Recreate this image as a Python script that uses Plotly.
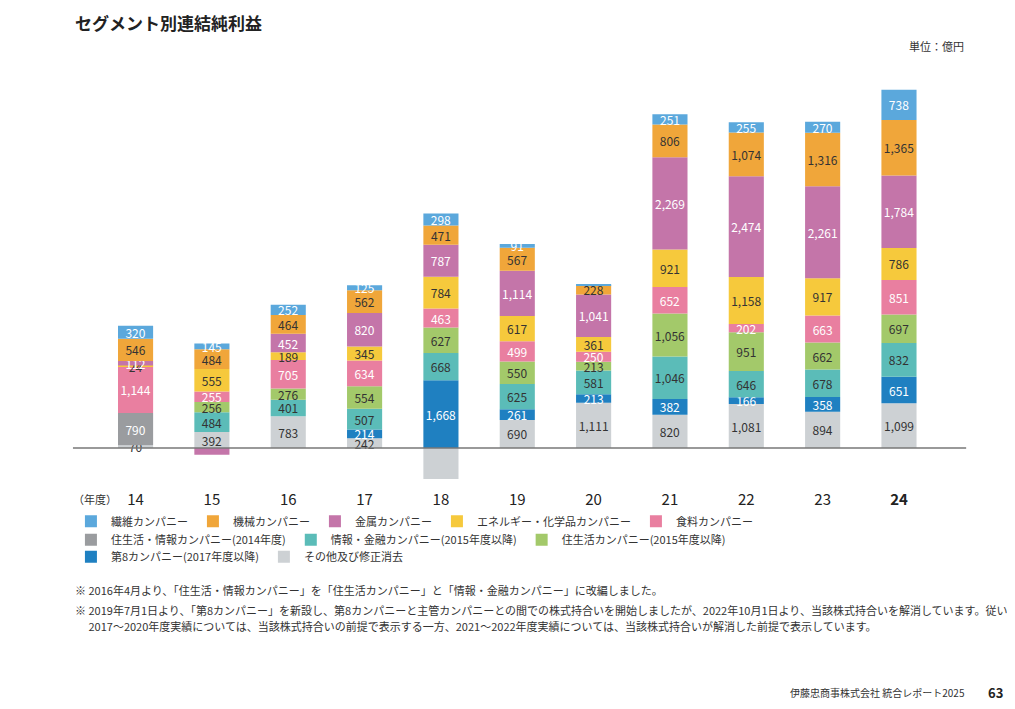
import plotly.graph_objs as go


years = ['14', '15', '16', '17', '18', '19', '20', '21', '22', '23', '24']

# stacking order, bottom first: (name, colour, text colour, legend, values)
segments = [
    ('その他及び修正消去', '#cdd1d4', '#333333', 'legend3',
     [70, 392, 783, 242, -760, 690, 1111, 820, 1081, 894, 1099]),
    ('住生活・情報カンパニー(2014年度)', '#9a9c9f', '#ffffff', 'legend2',
     [790, None, None, None, None, None, None, None, None, None, None]),
    ('第8カンパニー(2017年度以降)', '#1f80c1', '#ffffff', 'legend3',
     [None, None, None, 214, 1668, 261, 213, 382, 166, 358, 651]),
    ('情報・金融カンパニー(2015年度以降)', '#5bbcb8', '#333333', 'legend2',
     [None, 484, 401, 507, 668, 625, 581, 1046, 646, 678, 832]),
    ('住生活カンパニー(2015年度以降)', '#a3c96a', '#333333', 'legend2',
     [None, 256, 276, 554, 627, 550, 213, 1056, 951, 662, 697]),
    ('食料カンパニー', '#e97fa0', '#ffffff', 'legend',
     [1144, 255, 705, 634, 463, 499, 250, 652, 202, 663, 851]),
    ('エネルギー・化学品カンパニー', '#f6c93c', '#333333', 'legend',
     [24, 555, 189, 345, 784, 617, 361, 921, 1158, 917, 786]),
    ('金属カンパニー', '#c475a9', '#ffffff', 'legend',
     [112, -167, 452, 820, 787, 1114, 1041, 2269, 2474, 2261, 1784]),
    ('機械カンパニー', '#f0a63a', '#333333', 'legend',
     [546, 484, 464, 562, 471, 567, 228, 806, 1074, 1316, 1365]),
    ('繊維カンパニー', '#5ba8dc', '#ffffff', 'legend',
     [320, 145, 252, 125, 298, 91, 16, 251, 255, 270, 738]),
]
totals = [3006, 2404, 3522, 4003, 5005, 5013, 4014, 8203, 8005, 8018, 8803]

fig = go.Figure()

for name, color, tcolor, leg, vals in segments:
    labels = []
    for y, v in zip(years, vals):
        if v is None or v < 0 or (name == '繊維カンパニー' and y == '20'):
            labels.append('')
        else:
            labels.append(f'{v:,}')
    fig.add_trace(go.Bar(x=years, y=vals, name=name, marker_color=color, marker_line_width=0,
                         text=labels, textposition='inside', insidetextanchor='middle',
                         textangle=0, constraintext='none',
                         textfont=dict(color=tcolor, size=12), legend=leg,
                         hoverinfo='skip'))

# total labels
for i, (y, t) in enumerate(zip(years, totals)):
    top = sum(vals[i] for *_, vals in segments if vals[i] and vals[i] > 0)
    fig.add_annotation(x=y, y=top, text=f'{t:,}', showarrow=False, yanchor='bottom', yshift=1,
                       font=dict(size=12, color='#333333'))

# negative values
fig.add_annotation(x='15', y=-167, text='▲167', showarrow=False, yanchor='top', yshift=-1,
                   font=dict(size=12, color='#222222'))
fig.add_annotation(x='18', y=-380, text='▲760', showarrow=False,
                   font=dict(size=12, color='#222222'))
fig.add_annotation(x='20', y=4014, text='16', showarrow=False, xshift=26, yshift=-2,
                   font=dict(size=12, color='#333333'))

fig.add_shape(type='line', xref='paper', yref='y', x0=0.064, x1=0.944, y0=0, y1=0,
              line=dict(color='#777777', width=1.5))

ticktext = ['<b>24</b>' if y == '24' else y for y in years]
fig.update_xaxes(domain=[0.064, 0.944], range=[-0.82, 10.88], tickvals=years, ticktext=ticktext,
                 showgrid=False, showline=False, ticks='', tickfont=dict(size=15, color='#222222'),
                 ticklabelstandoff=6)
fig.update_yaxes(domain=[1 - 475 / 709, 1 - 60 / 709], range=[-860, 9340], visible=False)

texts = [
    (0.064, 0.980, 'left', '<b>セグメント別連結純利益</b>', 17, '#222222'),
    (0.944, 0.946, 'right', '単位：億円', 11, '#333333'),
    (0.062, 0.307, 'left', '（年度）', 11, '#333333'),
    (0.064, 0.179, 'left', '※ 2016年4月より、「住生活・情報カンパニー」を「住生活カンパニー」と「情報・金融カンパニー」に改編しました。', 11, '#333333'),
    (0.064, 0.151, 'left', '※ 2019年7月1日より、「第8カンパニー」を新設し、第8カンパニーと主管カンパニーとの間での株式持合いを開始しましたが、2022年10月1日より、当該株式持合いを解消しています。従い、', 11, '#333333'),
    (0.064, 0.128, 'left', '　 2017～2020年度実績については、当該株式持合いの前提で表示する一方、2021～2022年度実績については、当該株式持合いが解消した前提で表示しています。', 11, '#333333'),
    (0.945, 0.035, 'right', '伊藤忠商事株式会社 統合レポート2025', 10, '#333333'),
    (0.982, 0.035, 'right', '<b>63</b>', 13, '#222222'),
]
for x, y, anchor, t, s, c in texts:
    fig.add_annotation(xref='paper', yref='paper', x=x, y=y, text=t, showarrow=False,
                       xanchor=anchor, yanchor='middle', font=dict(size=s, color=c))

legend_style = dict(orientation='h', xanchor='left', yanchor='middle', font=dict(size=11, color='#333333'),
                    bgcolor='rgba(0,0,0,0)', itemwidth=30, tracegroupgap=0)
fig.update_layout(
    barmode='relative', bargap=0.54, width=1015, height=709,
    margin=dict(l=0, r=0, t=0, b=0),
    paper_bgcolor='white', plot_bgcolor='white',
    font=dict(family='Noto Sans CJK JP', color='#333333'),
    legend=dict(x=0.062, y=0.276, traceorder='reversed', **legend_style),
    legend2=dict(x=0.062, y=0.250, traceorder='normal', **legend_style),
    legend3=dict(x=0.062, y=0.226, traceorder='reversed', **legend_style),
)
fig.write_html('out.html')
